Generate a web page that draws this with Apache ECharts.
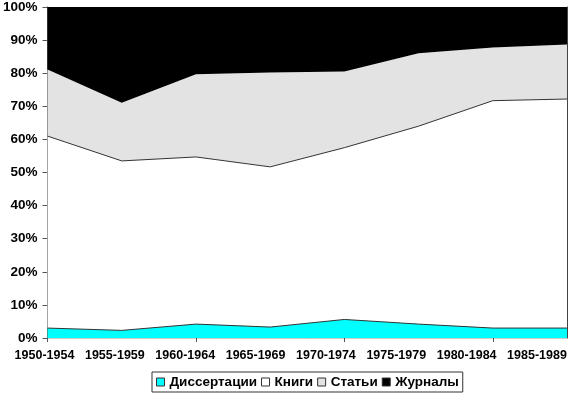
<!DOCTYPE html>
<html><head><meta charset="utf-8">
<script src="https://cdn.jsdelivr.net/npm/echarts@6/dist/echarts.min.js"></script>
<style>html,body{margin:0;padding:0;background:#fff}#c{width:570px;height:394px}</style>
</head><body><div id="c"></div>
<script>
const categories = ['1950-1954','1955-1959','1960-1964','1965-1969','1970-1974','1975-1979','1980-1984','1985-1989'];
const dissertations = [3.0, 2.3, 4.2, 3.3, 5.6, 4.2, 3.0, 3.0];
const books = [58.0, 51.2, 50.5, 48.4, 51.9, 59.8, 68.7, 69.2];
const articles = [20.1, 17.6, 25.0, 28.5, 23.0, 22.0, 16.1, 16.5];
const journals = [18.9, 28.9, 20.3, 19.8, 19.5, 14.0, 12.2, 11.3];
const seriesNames = ['Диссертации','Книги','Статьи','Журналы'];
const yTicks = [0,10,20,30,40,50,60,70,80,90,100];

const font = '"Liberation Sans", Arial, sans-serif';
const chart = echarts.init(document.getElementById('c'), null, {renderer:'canvas'});
function s(name, data, color, lineW, z) {
  return {
    name, type:'line', stack:'total', data, xAxisIndex:0, yAxisIndex:0,
    showSymbol:false, symbol:'none', z,
    lineStyle:{width:lineW, color:'#333'},
    itemStyle:{color},
    areaStyle:{color, opacity:1},
    emphasis:{disabled:true}, animation:false
  };
}
chart.setOption({
  animation:false,
  grid:[
    {left:45, right:3, top:5, bottom:56, show:true, borderWidth:0},
    {left:44.5, right:33, top:5, bottom:56}
  ],
  xAxis:[
    {type:'category', gridIndex:0, data:categories, boundaryGap:false,
     axisLine:{lineStyle:{color:'#555', width:1}},
     axisTick:{show:true, length:4, lineStyle:{color:'#555'}, alignWithLabel:true},
     axisLabel:{show:false}, splitLine:{show:false}},
    {type:'category', gridIndex:1, data:categories, boundaryGap:false,
     axisLine:{show:false}, axisTick:{show:false},
     axisLabel:{show:true, interval:0, margin:11, color:'#000', fontFamily:font, fontWeight:'bold', fontSize:12.5},
     splitLine:{show:false}},
    {type:'category', gridIndex:0, data:categories, boundaryGap:false, position:'top',
     axisLine:{lineStyle:{color:'#ccc'}}, axisTick:{show:false}, axisLabel:{show:false}}
  ],
  yAxis:[
    {type:'value', gridIndex:0, min:0, max:100, interval:10,
     axisLine:{show:true, lineStyle:{color:'#555'}},
     axisTick:{show:true, length:5, lineStyle:{color:'#555'}},
     axisLabel:{margin:10, color:'#000', fontFamily:font, fontWeight:'bold', fontSize:13.5,
       formatter:v => yTicks.includes(v) ? v + '%' : ''},
     splitLine:{show:false}},
    {type:'value', gridIndex:1, min:0, max:100, show:false},
    {type:'value', gridIndex:0, min:0, max:100, interval:10, position:'right',
     axisLine:{show:true, lineStyle:{color:'#444'}}, axisTick:{show:false},
     axisLabel:{show:false}, splitLine:{show:false}}
  ],
  legend:{
    data:seriesNames, left:152, top:372, orient:'horizontal',
    icon:'rect', itemWidth:8, itemHeight:8, itemGap:4,
    padding:[3,4,3,4], borderColor:'#333', borderWidth:1,
    itemStyle:{borderColor:'#333', borderWidth:1},
    textStyle:{color:'#000', fontFamily:font, fontWeight:'bold', fontSize:13.5},
    selectedMode:false
  },
  series:[
    s(seriesNames[0], dissertations, '#00FFFF', 1, 4),
    s(seriesNames[1], books, '#FFFFFF', 1, 3),
    s(seriesNames[2], articles, '#E3E3E3', 0, 2),
    s(seriesNames[3], journals, '#000000', 0, 2)
  ]
});
</script></body></html>
